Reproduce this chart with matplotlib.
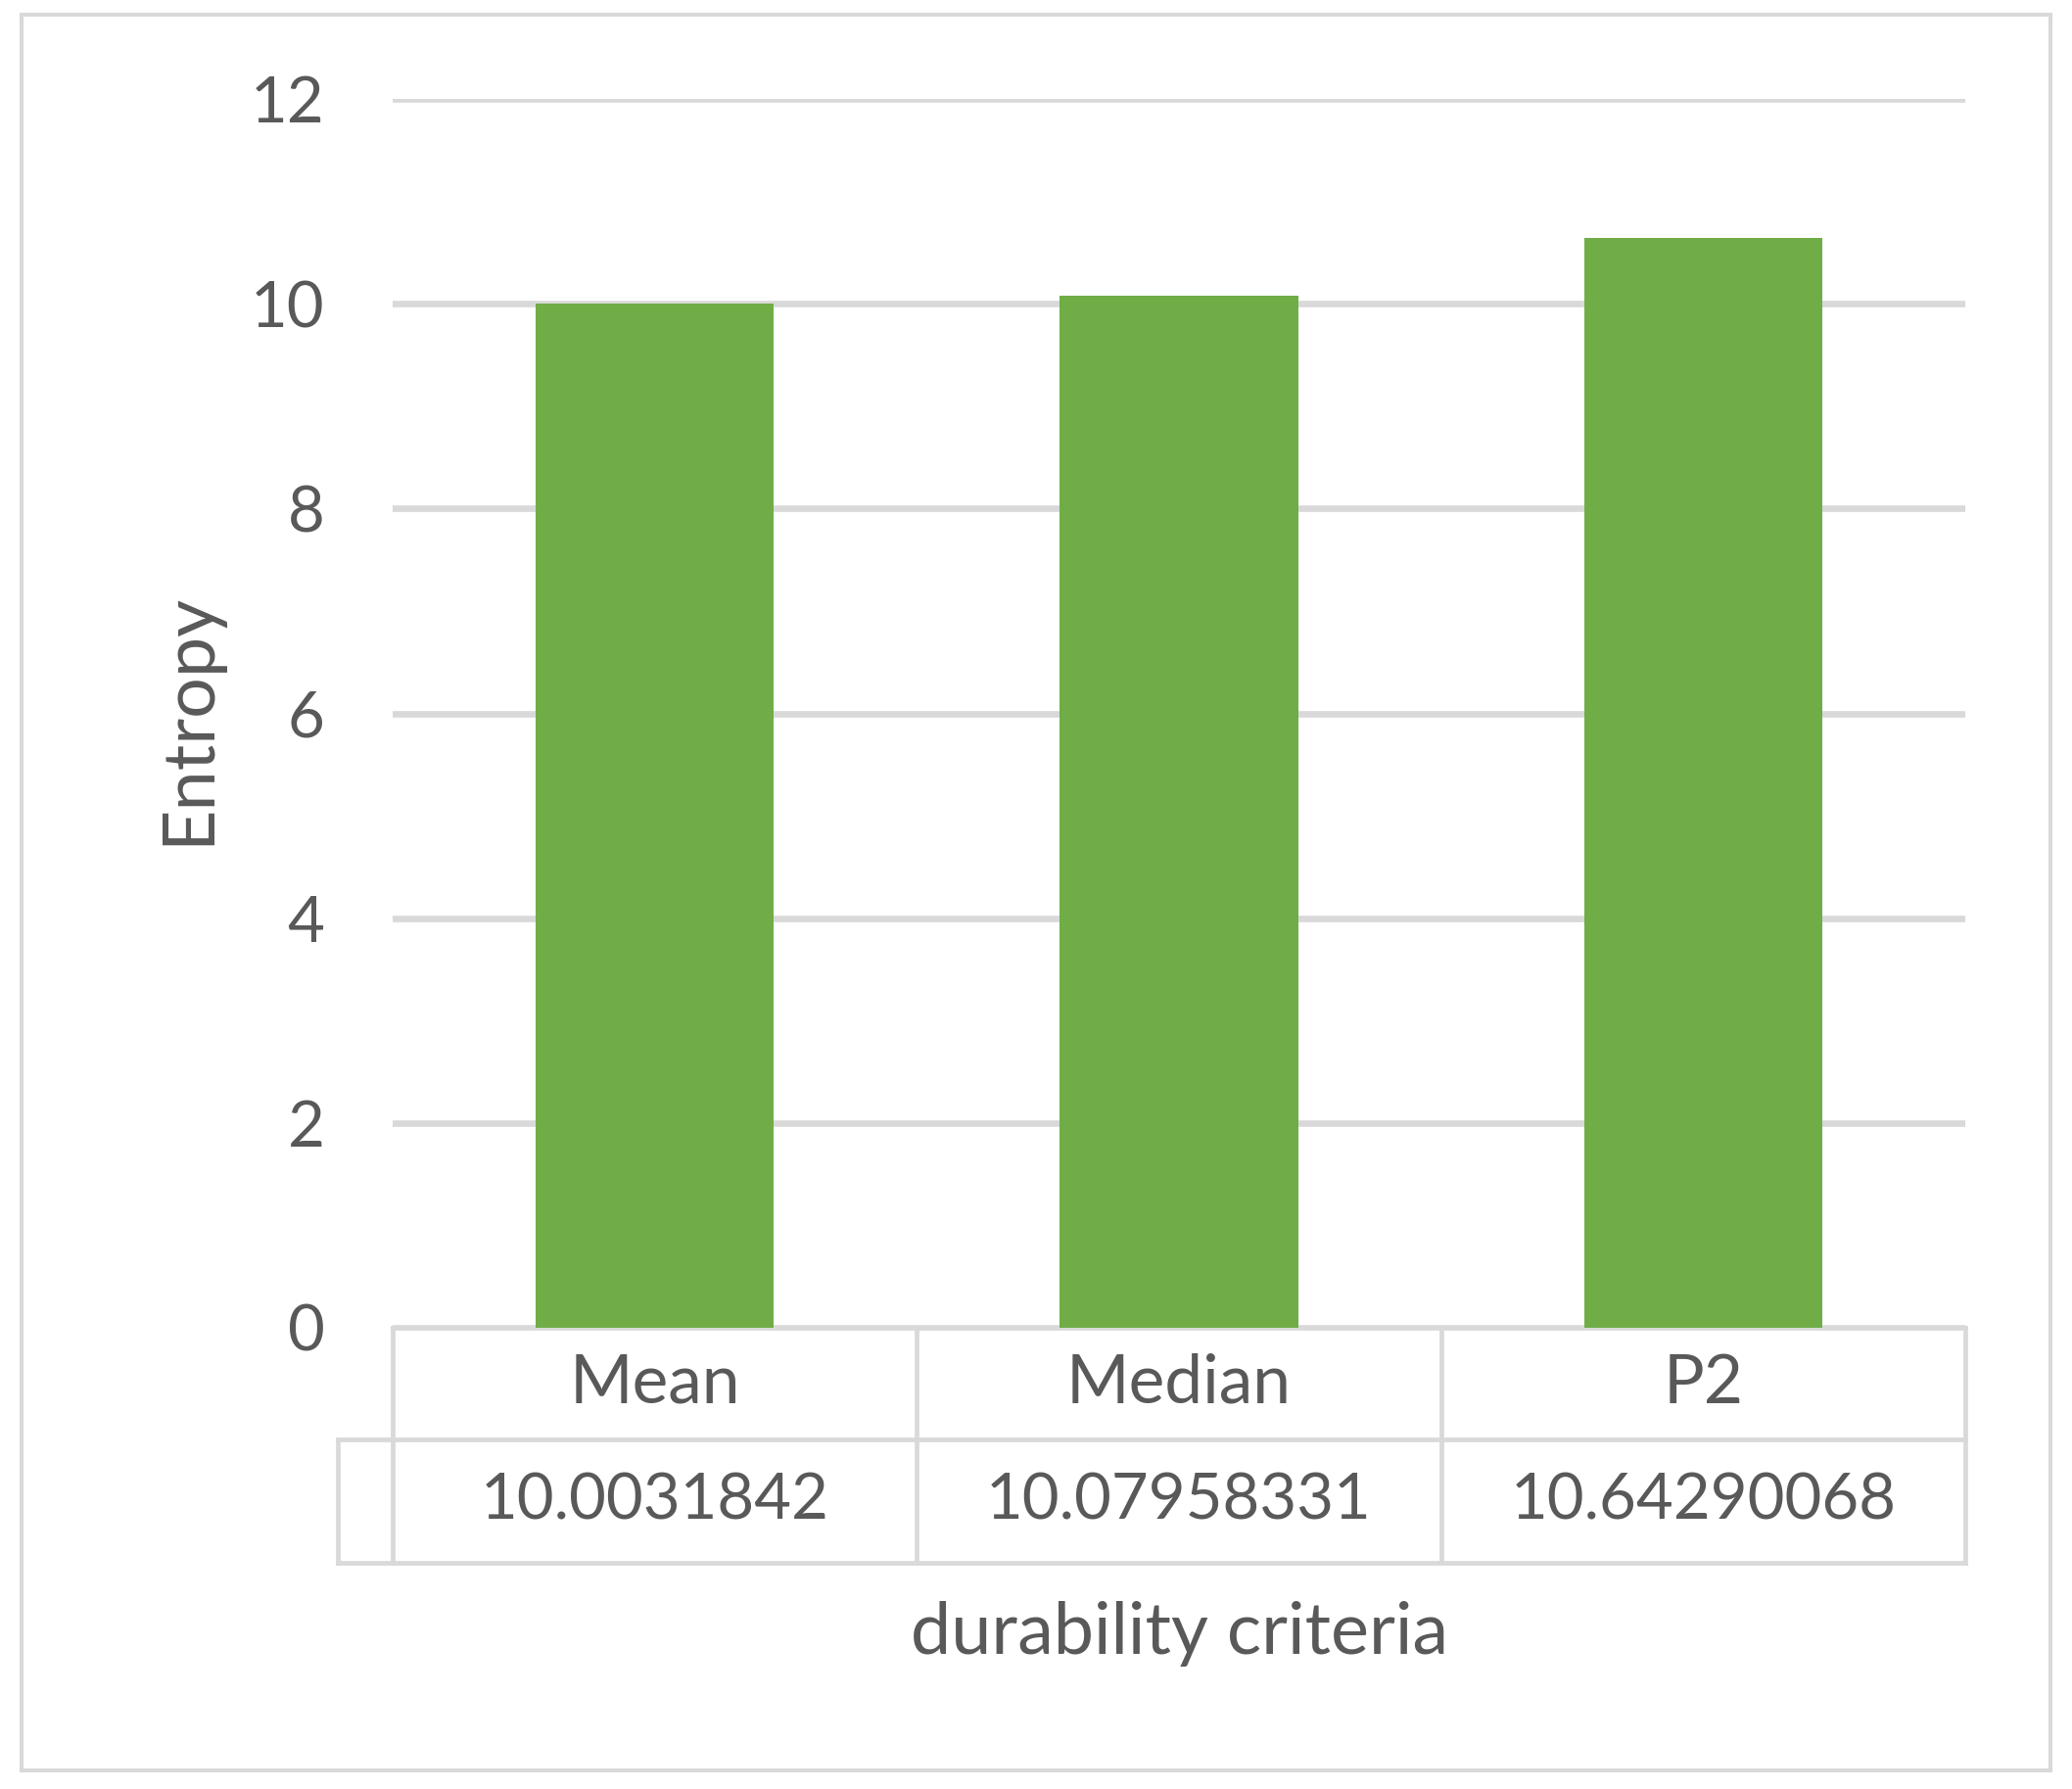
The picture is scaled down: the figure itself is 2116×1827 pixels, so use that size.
import matplotlib
matplotlib.use("Agg")
import matplotlib.pyplot as plt
from matplotlib.patches import Rectangle
import matplotlib.transforms as mtransforms

# Data
categories = ["Mean", "Median", "P2"]
entropy = [10.0031842, 10.07958331, 10.64290068]
value_labels = ["10.0031842", "10.07958331", "10.64290068"]
y_ticks = [0, 2, 4, 6, 8, 10, 12]

plt.rcParams["font.family"] = ["Lato", "DejaVu Sans"]
TEXT = "#595959"
GRID = "#D9D9D9"
GREEN = "#70AD47"
FS = 47

W, H = 2116, 1827
fig = plt.figure(figsize=(W / 100, H / 100), dpi=100)

# plot area in pixels (left, top, right, bottom)
L, T, R, B = 401, 101, 2007, 1356
ax = fig.add_axes([L / W, (H - B) / H, (R - L) / W, (B - T) / H])

x = list(range(len(categories)))
ax.bar(x, entropy, width=0.455, color=GREEN, zorder=3)
ax.set_xlim(-0.5, len(categories) - 0.5)
ax.set_ylim(0, 12)
ax.set_yticks(y_ticks)
ax.set_yticklabels([str(t) for t in y_ticks], fontsize=FS, color=TEXT)
ax.tick_params(axis="y", length=0, pad=50)
ax.set_xticks([])
ax.grid(axis="y", color=GRID, linewidth=4.8, zorder=0)
for s in ax.spines.values():
    s.set_visible(False)

# data table below the plot
tr = mtransforms.blended_transform_factory(ax.transData, ax.transAxes)
row_top, row_mid, row_bot = 0.0, -0.091, -0.191
left_ext = -0.605
lw = 3.4
edges = [i - 0.5 for i in range(len(categories) + 1)]
ax.plot([edges[0], edges[-1]], [row_top, row_top], color=GRID, lw=lw, transform=tr, clip_on=False)
ax.plot([left_ext, edges[-1]], [row_mid, row_mid], color=GRID, lw=lw, transform=tr, clip_on=False)
ax.plot([left_ext, edges[-1]], [row_bot, row_bot], color=GRID, lw=lw, transform=tr, clip_on=False)
ax.plot([left_ext, left_ext], [row_mid, row_bot], color=GRID, lw=lw, transform=tr, clip_on=False)
for e in edges:
    ax.plot([e, e], [row_top, row_bot], color=GRID, lw=lw, transform=tr, clip_on=False)

for i, (c, v) in enumerate(zip(categories, value_labels)):
    ax.text(i, (row_top + row_mid) / 2, c, transform=tr, ha="center", va="center",
            fontsize=50, color=TEXT)
    ax.text(i, (row_mid + row_bot) / 2, v, transform=tr, ha="center", va="center",
            fontsize=FS, color=TEXT)

ax.text(0.5, -0.249, "durability criteria", transform=ax.transAxes, ha="center",
        va="center", fontsize=53, color=TEXT)
ax.text(-0.1295, 0.496, "Entropy", transform=ax.transAxes, ha="center", va="center",
        rotation=90, fontsize=53, color=TEXT)

# outer chart border
fig.patches.append(Rectangle((22 / W, (H - 1808) / H), (2094 - 22) / W, (1808 - 15) / H,
                             transform=fig.transFigure, fill=False, edgecolor=GRID,
                             linewidth=2.9))

fig.savefig("out.png", dpi=100, facecolor="white")
